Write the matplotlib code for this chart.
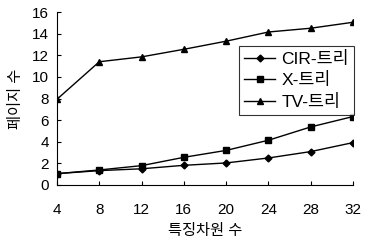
import matplotlib
matplotlib.use("Agg")
import matplotlib.pyplot as plt

plt.rcParams['font.family'] = ['Liberation Sans', 'Noto Sans CJK KR', 'DejaVu Sans']

dims = [4, 8, 12, 16, 20, 24, 28, 32]
cir_tree = [1.05, 1.33, 1.5, 1.82, 2.04, 2.5, 3.09, 3.92]
x_tree = [1.05, 1.39, 1.79, 2.56, 3.2, 4.14, 5.37, 6.33]
tv_tree = [7.93, 11.4, 11.85, 12.55, 13.3, 14.15, 14.5, 15.05]
labels = ['CIR-트리', 'X-트리', 'TV-트리']

fig = plt.figure(figsize=(3.66, 2.42), dpi=100)
ax = fig.add_axes([57/366, 1 - 185/242, (353 - 57)/366, (185 - 12)/242])

ax.plot(dims, cir_tree, color='black', marker='D', markersize=3.5, lw=1, label=labels[0])
ax.plot(dims, x_tree, color='black', marker='s', markersize=5, lw=1, label=labels[1])
ax.plot(dims, tv_tree, color='black', marker='^', markersize=5, lw=1, label=labels[2])

ax.set_xlim(4, 32)
ax.set_ylim(0, 16)
ax.set_xticks(dims)
ax.set_yticks(range(0, 17, 2))
ax.spines['top'].set_visible(False)
ax.spines['right'].set_visible(False)
ax.tick_params(direction='in', length=3, labelsize=11, pad=6)
ax.tick_params(axis='x', pad=13)
for s in ax.spines.values():
    s.set_linewidth(0.8)
ax.set_xlabel('특징차원 수', fontsize=11, labelpad=5)
ax.set_ylabel('페이지 수', fontsize=11, labelpad=6)

leg = ax.legend(loc='upper left', bbox_to_anchor=(239/366, 1 - 46/242),
                bbox_transform=fig.transFigure, frameon=True, fancybox=False,
                edgecolor='black', fontsize=12.5, handlelength=1.8, borderpad=0.3,
                labelspacing=0.3, handletextpad=0.35, borderaxespad=0)
leg.get_frame().set_linewidth(0.8)

fig.savefig('out.png', dpi=100)
